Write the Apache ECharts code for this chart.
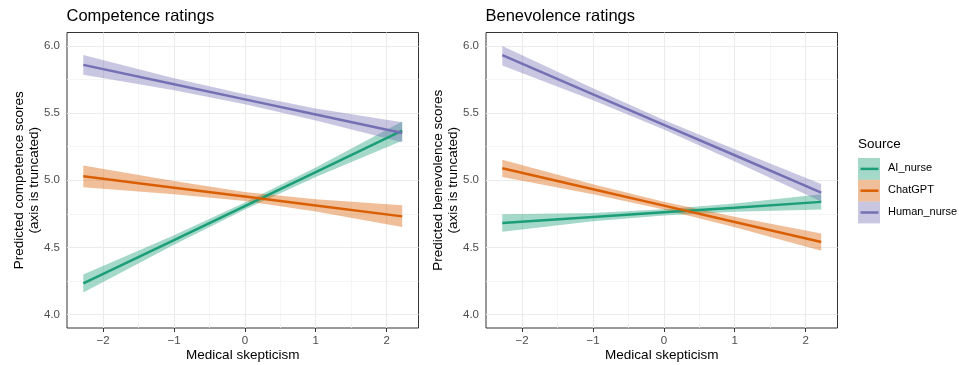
<!DOCTYPE html>
<html>
<head>
<meta charset="utf-8">
<script src="https://cdn.jsdelivr.net/npm/echarts@6/dist/echarts.min.js"></script>
<style>
  html, body { margin: 0; padding: 0; background: #fff; }
  #chart { width: 959px; height: 365px; }
</style>
</head>
<body>
<div id="chart"></div>
<script>
// x positions where predictions were read
const xs = [-2.28, -1, 0, 1, 2.22];

const sources = ['AI_nurse', 'ChatGPT', 'Human_nurse'];
const colors = ['#1B9E77', '#D95F02', '#7570B3'];

// Competence panel
const compAIFit = [4.232, 4.555, 4.808, 5.060, 5.369];
const compAILow = [4.165, 4.520, 4.782, 5.025, 5.295];
const compAIHigh = [4.298, 4.590, 4.834, 5.095, 5.438];
const compGPTFit = [5.030, 4.945, 4.879, 4.812, 4.731];
const compGPTLow = [4.948, 4.895, 4.845, 4.768, 4.652];
const compGPTHigh = [5.109, 4.995, 4.913, 4.858, 4.813];
const compHumFit = [5.859, 5.715, 5.602, 5.489, 5.352];
const compHumLow = [5.785, 5.670, 5.565, 5.445, 5.282];
const compHumHigh = [5.933, 5.760, 5.640, 5.535, 5.431];

// Benevolence panel
const benAIFit = [4.681, 4.726, 4.761, 4.796, 4.839];
const benAILow = [4.616, 4.695, 4.737, 4.765, 4.782];
const benAIHigh = [4.746, 4.757, 4.785, 4.827, 4.896];
const benGPTFit = [5.089, 4.933, 4.811, 4.689, 4.540];
const benGPTLow = [5.025, 4.895, 4.782, 4.650, 4.476];
const benGPTHigh = [5.153, 4.970, 4.840, 4.728, 4.604];
const benHumFit = [5.931, 5.640, 5.413, 5.186, 4.908];
const benHumLow = [5.855, 5.595, 5.378, 5.140, 4.842];
const benHumHigh = [6.000, 5.685, 5.448, 5.230, 4.973];

const xTicks = [-2, -1, 0, 1, 2];
const xMinor = [-1.5, -0.5, 0.5, 1.5];
const yTicks = [4.0, 4.5, 5.0, 5.5, 6.0];
const yMinor = [4.25, 4.75, 5.25, 5.75];

const panelTitles = ['Competence ratings', 'Benevolence ratings'];
const yNames = ['Predicted competence scores\n(axis is truncated)',
                'Predicted benevolence scores\n(axis is truncated)'];
const xName = 'Medical skepticism';

const panels = [
  [[compAIFit, compAILow, compAIHigh], [compGPTFit, compGPTLow, compGPTHigh], [compHumFit, compHumLow, compHumHigh]],
  [[benAIFit, benAILow, benAIHigh], [benGPTFit, benGPTLow, benGPTHigh], [benHumFit, benHumLow, benHumHigh]]
];

const chart = echarts.init(document.getElementById('chart'));
const font = 'Liberation Sans, Arial, Helvetica, sans-serif';
const gridLefts = [67, 486];

const pair = (vals) => xs.map((x, i) => [x, vals[i]]);
const fmtX = (v) => (v < 0 ? '\u2212' + Math.abs(v) : String(v));

let series = [];
panels.forEach((groups, p) => {
  // background grid lines
  series.push({
    type: 'line', xAxisIndex: p, yAxisIndex: p, data: [], z: 1, silent: true,
    markLine: {
      z: 1, silent: true, symbol: 'none', label: { show: false }, animation: false,
      data: [
        ...xMinor.map(v => ({ xAxis: v, lineStyle: { color: '#f0f0f0', width: 0.7, type: 'solid' } })),
        ...yMinor.map(v => ({ yAxis: v, lineStyle: { color: '#f0f0f0', width: 0.7, type: 'solid' } })),
        ...xTicks.map(v => ({ xAxis: v, lineStyle: { color: '#ebebeb', width: 1.1, type: 'solid' } })),
        ...yTicks.map(v => ({ yAxis: v, lineStyle: { color: '#ebebeb', width: 1.1, type: 'solid' } }))
      ]
    }
  });
  // confidence ribbons
  groups.forEach((g, k) => {
    const low = g[1], high = g[2];
    series.push({
      type: 'custom', xAxisIndex: p, yAxisIndex: p, z: 2, silent: true,
      data: [[xs[0], low[0]]],
      renderItem: (params, api) => {
        const upper = xs.map((x, i) => api.coord([x, high[i]]));
        const lower = xs.map((x, i) => api.coord([x, low[i]])).reverse();
        return {
          type: 'polygon',
          shape: { points: upper.concat(lower) },
          style: { fill: colors[k], opacity: 0.4 }
        };
      }
    });
  });
  groups.forEach((g, k) => {
    series.push({
      name: sources[k], type: 'line', xAxisIndex: p, yAxisIndex: p, z: 3,
      data: pair(g[0]), symbol: 'none',
      lineStyle: { color: colors[k], width: 2.5 }
    });
  });
});

// legend drawn by hand to get the ribbon + line keys
const legendGraphics = [{
  type: 'text', left: 858, top: 137,
  style: { text: 'Source', font: '13.5px ' + font, fill: '#000' }
}];
sources.forEach((s, k) => {
  const top = 158 + k * 21.8;
  legendGraphics.push({
    type: 'rect', shape: { x: 858, y: top, width: 22, height: 21.8 },
    style: { fill: colors[k], opacity: 0.4 }
  });
  legendGraphics.push({
    type: 'line', shape: { x1: 860.5, y1: top + 10.9, x2: 878.5, y2: top + 10.9 },
    style: { stroke: colors[k], lineWidth: 2.5 }
  });
  legendGraphics.push({
    type: 'text', left: 888, top: top + 4.5,
    style: { text: s, font: '11px ' + font, fill: '#000' }
  });
});

const option = {
  animation: false,
  textStyle: { fontFamily: font },
  title: panelTitles.map((t, p) => ({
    text: t, left: gridLefts[p] - 0.5, top: 8, padding: 0,
    textStyle: { fontSize: 16.5, fontWeight: 'normal', color: '#000', fontFamily: font }
  })),
  grid: gridLefts.map(l => ({
    left: l, top: 32.5, width: 351.5, height: 295.5,
    containLabel: false, outerBoundsMode: 'none',
    show: true, borderColor: '#333', borderWidth: 1, backgroundColor: '#fff'
  })),
  xAxis: [0, 1].map(p => ({
    type: 'value', gridIndex: p, min: -2.51, max: 2.45,
    name: xName, nameLocation: 'middle', nameGap: 20, nameMoveOverlap: false,
    nameTextStyle: { fontSize: 13.5, color: '#000', fontFamily: font },
    axisLine: { show: false },
    axisTick: { show: true, length: 4, customValues: xTicks, lineStyle: { color: '#333' } },
    axisLabel: { customValues: xTicks, formatter: fmtX, color: '#4d4d4d', fontSize: 11.5, margin: 7 },
    splitLine: { show: false }
  })),
  yAxis: [0, 1].map(p => ({
    type: 'value', gridIndex: p, min: 3.9, max: 6.1,
    name: yNames[p], nameLocation: 'middle', nameRotate: 90, nameGap: 25, nameMoveOverlap: false,
    nameTextStyle: { fontSize: 13.5, lineHeight: 15, color: '#000', fontFamily: font },
    axisLine: { show: false },
    axisTick: { show: true, length: 4, customValues: yTicks, lineStyle: { color: '#333' } },
    axisLabel: { customValues: yTicks, formatter: v => v.toFixed(1), color: '#4d4d4d', fontSize: 11.5, margin: 7 },
    splitLine: { show: false }
  })),
  graphic: legendGraphics,
  series: series
};

chart.setOption(option);
</script>
</body>
</html>
